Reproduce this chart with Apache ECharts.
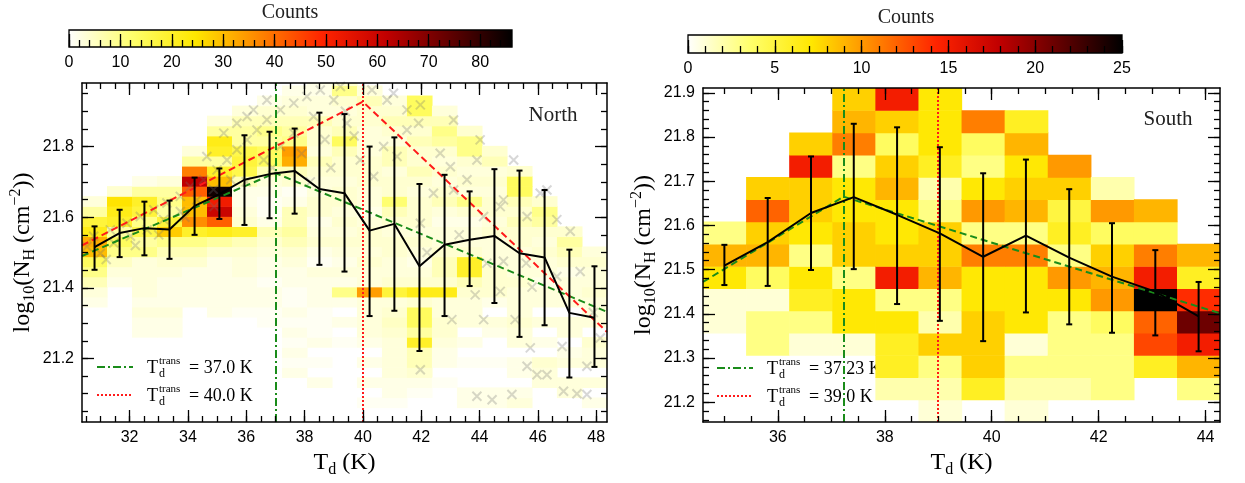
<!DOCTYPE html>
<html lang="en">
<head>
<meta charset="UTF-8">
<title>N_H vs T_d (North / South)</title>
<script src="https://cdn.jsdelivr.net/npm/echarts@6/dist/echarts.min.js"></script>
<style>
  html, body { margin: 0; padding: 0; background: #fff; }
  #chart { width: 1245px; height: 483px; }
</style>
</head>
<body>
<div id="chart"></div>
<script>
// ---------------- North panel data ----------------
var northRange = [30.37, 48.37, 21.02, 21.98];
var northBinX = [30.37, 0.857];      // first edge, width
var northBinY = [21.004, 0.0285];
// 2D histogram counts per column: [first row, counts upward...]
var northCells = [
  [12, 2, 3, 6, 10, 14, 30, 32, 22, 18, 8, 3],
  [14, 2, 3, 5, 10, 14, 8, 20, 22, 25, 4],
  [9, 2, 2, 3, 2, 3, 3, 3, 3, 10, 8, 16, 10, 18, 20, 8, 2],
  [9, 2, 2, 3, 2, 2, 2, 3, 4, 6, 10, 28, 18, 8, 10, 8, 3],
  [12, 2, 2, 2, 2, 4, 6, 10, 20, 36, 30, 30, 42, 62, 38, 8, 3],
  [11, 2, 2, 2, 2, 2, 2, 4, 8, 22, 42, 60, 52, 84, 30, 20, 8, 20, 22, 8, 3],
  [11, 1, 2, 2, 2, 3, 3, 4, 6, 20, 4, 3, 2, 2, 6, 16, 18, 16, 8, 8, 6, 3],
  [10, 1, 1, 2, 2, 1, 2, 2, 3, 4, 6, 2, 1, 1, 2, 3, 6, 14, 14, 8, 10, 6, 4, 2],
  [5, 2, 1, 2, 1, 2, 1, 2, 1, 1, 2, 2, 3, 4, 6, 8, 6, 6, 2, 1, 4, 6, 32, 34, 10, 8, 6, 4, 3, 2],
  [4, 2, 0, 1, 0, 2, 1, 1, 1, 2, 2, 2, 3, 1, 2, 4, 3, 2, 4, 4, 3, 3, 4, 6, 3, 4, 4, 6, 3, 3, 2, 2],
  [8, 1, 0, 2, 0, 2, 10, 2, 3, 2, 3, 4, 3, 4, 3, 4, 4, 3, 4, 4, 6, 14, 6, 4, 3, 4, 10, 4],
  [2, 1, 0, 2, 0, 2, 0, 2, 3, 3, 3, 3, 34, 3, 3, 4, 3, 4, 4, 3, 2, 3, 3, 4, 4, 4, 3, 3, 3, 4, 4, 6, 3],
  [2, 1, 2, 2, 3, 3, 3, 3, 4, 5, 4, 3, 18, 4, 3, 3, 4, 4, 3, 4, 6, 12, 4, 4, 3, 6, 6, 3, 4, 6, 4, 3],
  [3, 1, 2, 4, 6, 6, 20, 8, 14, 14, 4, 22, 4, 3, 2, 3, 4, 3, 4, 4, 4, 3, 4, 6, 4, 4, 6, 4, 6, 14, 14],
  [4, 1, 0, 2, 2, 3, 4, 4, 3, 3, 22, 4, 6, 6, 4, 3, 3, 2, 3, 6, 4, 3, 4, 3, 4, 8, 10, 6, 3],
  [2, 2, 2, 0, 0, 1, 0, 2, 0, 3, 3, 3, 4, 6, 20, 20, 4, 3, 3, 2, 4, 10, 3, 4, 3, 4, 10, 10, 4],
  [2, 2, 2, 0, 0, 1, 0, 0, 2, 3, 0, 2, 4, 4, 4, 3, 3, 3, 4, 3, 4, 4, 3, 4, 3, 6, 4],
  [2, 3, 2, 0, 2, 2, 0, 3, 3, 4, 3, 3, 3, 4, 3, 3, 3, 4, 4, 6, 4, 6, 14, 14, 4],
  [4, 3, 3, 4, 0, 2, 0, 3, 0, 3, 3, 2, 3, 3, 4, 3, 4, 8, 10, 4],
  [3, 3, 3, 0, 3, 2, 0, 3, 3, 0, 3, 3, 3, 2, 4, 6, 8, 4],
  [2, 2, 0, 3, 0, 3, 3, 4, 0, 3, 3, 3, 4, 3, 3, 4, 3]
];
var northT = [30.80, 31.66, 32.51, 33.37, 34.23, 35.08, 35.94, 36.80, 37.66, 38.51, 39.37,
              40.23, 41.08, 41.94, 42.80, 43.66, 44.51, 45.37, 46.23, 47.08, 47.94];
var northMean = [21.515, 21.555, 21.569, 21.565, 21.632, 21.665, 21.706, 21.722, 21.731, 21.680, 21.668,
                 21.562, 21.581, 21.461, 21.522, 21.536, 21.547, 21.498, 21.486, 21.329, 21.315];
var northHi = [21.574, 21.621, 21.644, 21.647, 21.712, 21.738, 21.832, 21.842, 21.851, 21.896, 21.892,
               21.800, 21.826, 21.694, 21.720, 21.673, 21.736, 21.732, 21.677, 21.508, 21.461];
var northLo = [21.451, 21.487, 21.492, 21.482, 21.550, 21.595, 21.578, 21.597, 21.610, 21.465, 21.446,
               21.320, 21.335, 21.221, 21.320, 21.405, 21.357, 21.261, 21.294, 21.146, 21.176];
var northPoints = [
  [30.54, 21.517], [30.77, 21.546], [31.0, 21.498], [31.34, 21.564], [31.46, 21.527], [31.91, 21.583],
  [32.03, 21.546], [32.37, 21.602], [32.6, 21.564], [32.83, 21.621], [33.17, 21.593], [33.28, 21.640],
  [33.74, 21.659], [33.74, 21.616], [34.08, 21.687], [34.31, 21.649], [34.54, 21.706], [34.65, 21.772],
  [34.88, 21.678], [35.0, 21.734], [35.23, 21.838], [35.34, 21.762], [35.47, 21.706], [35.68, 21.791],
  [35.68, 21.866], [36.03, 21.819], [36.03, 21.885], [36.25, 21.904], [36.37, 21.847], [36.6, 21.762],
  [36.71, 21.876], [36.71, 21.932], [37.17, 21.904], [37.17, 21.80], [37.63, 21.923], [37.63, 21.838],
  [38.08, 21.942], [38.31, 21.885], [38.54, 21.960], [39.0, 21.932], [39.23, 21.970],
  [40.31, 21.96], [41.05, 21.951], [41.97, 21.918], [40.71, 21.80], [41.91, 21.866], [41.51, 21.847],
  [43.11, 21.875], [44.02, 21.819], [43.91, 21.762], [43.0, 21.743], [42.42, 21.668], [41.97, 21.583],
  [44.14, 21.602], [44.71, 21.63], [45.63, 21.602], [47.11, 21.56], [45.17, 21.762], [46.08, 21.668],
  [46.31, 21.677], [41.17, 21.772], [39.91, 21.762], [40.37, 21.715], [42.65, 21.781], [43.57, 21.706],
  [39.45, 21.866], [40.83, 21.932], [41.51, 21.904], [43.11, 21.677], [44.82, 21.649], [46.65, 21.593],
  [43.05, 21.31], [44.14, 21.31], [45.22, 21.31], [45.74, 21.23], [45.63, 21.178], [45.97, 21.154],
  [46.31, 21.154], [46.88, 21.107], [47.34, 21.10], [47.68, 21.098], [43.91, 21.093], [44.43, 21.083],
  [45.11, 21.098], [44.71, 21.39], [43.85, 21.38], [45.80, 21.402], [47.45, 21.446], [46.83, 21.234],
  [47.68, 21.178], [48.14, 21.258], [41.97, 21.168], [44.25, 21.47], [44.82, 21.475], [46.65, 21.432],
  [31.2, 21.48], [32.2, 21.52], [33.0, 21.55], [33.9, 21.60], [34.9, 21.63], [36.0, 21.70], [36.9, 21.74],
  [37.9, 21.78], [38.7, 21.82], [39.4, 21.90], [38.2, 21.70], [38.9, 21.74], [39.7, 21.83], [42.2, 21.50],
  [43.3, 21.55], [45.6, 21.47], [47.9, 21.33]
];
var northFitRed = [[30.37, 21.52], [40.0, 21.927], [48.37, 21.275]];
var northFitGreen = [[30.37, 21.49], [37.0, 21.725], [48.37, 21.332]];
var northTrans = [37.0, 40.0];
var northLegend = ['= 37.0 K', '= 40.0 K'];
var northCbMax = 86.2;

// ---------------- South panel data ----------------
var southRange = [34.6, 44.27, 21.155, 21.911];
var southBinX = [34.6, 0.806];
var southBinY = [21.155, 0.0504];
var southCells = [
  [0, 0, 0, 0, 0, 1, 1, 7, 9, 3, 0, 0, 0, 0, 0, 0],
  [0, 0, 0, 0, 3, 3, 1, 4, 9, 8, 12, 8, 0, 0, 0, 0],
  [0, 0, 0, 0, 1, 3, 6, 7, 3, 7, 8, 8, 15, 8, 0, 0],
  [0, 0, 0, 0, 1, 7, 7, 3, 8, 8, 7, 7, 3, 11, 9, 8],
  [0, 0, 2, 6, 6, 7, 3, 15, 8, 7, 7, 9, 8, 4, 8, 15],
  [0, 1, 2, 3, 8, 2, 3, 9, 8, 8, 3, 2, 6, 7, 7, 7],
  [0, 0, 6, 8, 8, 8, 7, 7, 11, 3, 10, 7, 3, 4, 11, 0],
  [0, 1, 2, 3, 1, 7, 7, 7, 11, 3, 9, 8, 7, 9, 6, 0],
  [0, 0, 2, 3, 3, 3, 7, 10, 3, 6, 5, 8, 10, 0, 0, 0],
  [0, 0, 3, 3, 3, 4, 10, 9, 8, 4, 10, 2, 0, 0, 0, 0],
  [0, 0, 0, 6, 13, 12, 25, 15, 11, 4, 9, 0, 0, 0, 0, 0],
  [0, 0, 3, 9, 15, 21, 14, 6, 9, 0, 0, 0, 0, 0, 0, 0]
];
var southT = [35.0, 35.81, 36.62, 37.42, 38.23, 39.03, 39.84, 40.64, 41.45, 42.25, 43.06, 43.87];
var southMean = [21.509, 21.562, 21.628, 21.664, 21.624, 21.582, 21.529, 21.577, 21.527, 21.484, 21.450, 21.394];
var southHi = [21.556, 21.662, 21.756, 21.830, 21.822, 21.777, 21.718, 21.749, 21.682, 21.605, 21.544, 21.472];
var southLo = [21.465, 21.463, 21.499, 21.501, 21.422, 21.384, 21.338, 21.403, 21.376, 21.357, 21.351, 21.315];
var southFitGreen = [[34.6, 21.472], [37.23, 21.665], [44.27, 21.401]];
var southTrans = [37.23, 39.0];
var southLegend = ['= 37.23 K', '= 39.0 K'];
var southCbMax = 25;

// matplotlib hot_r
var hotR = ['#ffffff', '#ffff6d', '#ffe700', '#ff8600', '#ff2400', '#c20000', '#610000', '#000000'];
var sans = 'Liberation Sans, Arial, sans-serif';
var serif = 'Liberation Serif, Times New Roman, serif';
var green = '#1a8c1a';
var red = '#ff1a1a';

function steps(a, b, s) {
  var out = [];
  for (var v = a; v <= b + 1e-9; v += s) out.push(Math.round(v * 1000) / 1000);
  return out;
}

function cellData(cols, bx, by) {
  var out = [];
  cols.forEach(function (col, c) {
    for (var k = 1; k < col.length; k++) {
      if (col[k] > 0) out.push([bx[0] + bx[1] * c, by[0] + by[1] * (col[0] + k - 1), col[k]]);
    }
  });
  return out;
}

function cellSeries(data, bx, by, ai) {
  return {
    type: 'custom', xAxisIndex: ai, yAxisIndex: ai, clip: true, z: 1, silent: true,
    data: data, encode: { x: 0, y: 1 },
    renderItem: function (params, api) {
      var x = api.value(0), y = api.value(1);
      var a = api.coord([x, y]), b = api.coord([x + bx[1], y + by[1]]);
      return {
        type: 'rect',
        shape: { x: a[0], y: b[1], width: b[0] - a[0] + 0.6, height: a[1] - b[1] + 0.6 },
        style: { fill: api.visual('color') }
      };
    }
  };
}

function errSeries(t, lo, hi, ai) {
  return {
    type: 'custom', xAxisIndex: ai, yAxisIndex: ai, z: 6, silent: true,
    data: t.map(function (x, i) { return [x, lo[i], hi[i]]; }),
    encode: { x: 0, y: [1, 2] },
    renderItem: function (params, api) {
      var x = api.value(0);
      var p = api.coord([x, api.value(1)]), q = api.coord([x, api.value(2)]);
      var st = { stroke: '#000', lineWidth: 2 };
      return {
        type: 'group', children: [
          { type: 'line', shape: { x1: p[0], y1: p[1], x2: q[0], y2: q[1] }, style: st },
          { type: 'line', shape: { x1: p[0] - 3, y1: p[1], x2: p[0] + 3, y2: p[1] }, style: st },
          { type: 'line', shape: { x1: q[0] - 3, y1: q[1], x2: q[0] + 3, y2: q[1] }, style: st }
        ]
      };
    }
  };
}

function lineSeries(data, ai, color, dash, z, vline, vColor, vDash) {
  var s = {
    type: 'line', xAxisIndex: ai, yAxisIndex: ai, data: data, showSymbol: false, silent: true, z: z,
    lineStyle: { color: color, width: 2, type: dash }
  };
  if (vline != null) {
    s.markLine = {
      silent: true, symbol: 'none', label: { show: false },
      lineStyle: { color: vColor, width: 2, type: vDash },
      data: [{ xAxis: vline }]
    };
  }
  return s;
}

var nameRich = {
  b: { fontFamily: serif, fontSize: 24, lineHeight: 30, color: '#000' },
  sub: { fontFamily: serif, fontSize: 16, lineHeight: 15, verticalAlign: 'bottom', color: '#000' },
  sup: { fontFamily: serif, fontSize: 16, lineHeight: 15, verticalAlign: 'top', color: '#000' }
};

function mkAxis(grid, pos, range, ticks, len, opts) {
  opts = opts || {};
  var a = {
    type: 'value', gridIndex: grid, position: pos, min: range[0], max: range[1], z: 10,
    axisLine: { show: !!opts.line, onZero: false, lineStyle: { color: '#000', width: 1.5 } },
    splitLine: { show: false },
    axisTick: { show: true, inside: true, length: len, lineStyle: { color: '#000', width: 1.3 }, customValues: ticks },
    axisLabel: { show: !!opts.labels, customValues: ticks, margin: 8, color: '#000', fontFamily: sans, fontSize: 16 }
  };
  if (opts.name) {
    a.name = opts.name;
    a.nameLocation = 'middle';
    a.nameGap = opts.gap;
    a.nameRotate = opts.rotate || 0;
    a.nameTextStyle = { rich: nameRich };
  }
  return a;
}

var xName = '{b|T}{sub|d}{b| (K)}';
var yName = '{b|log}{sub|10}{b|(N}{sub|H}{b| (cm}{sup|−2}{b|))}';

var xAxes = [
  mkAxis(0, 'bottom', northRange.slice(0, 2), steps(32, 48, 2), 12, { line: true, labels: true, name: xName, gap: 24 }),
  mkAxis(0, 'bottom', northRange.slice(0, 2), steps(30.5, 48, 0.5), 6),
  mkAxis(0, 'top', northRange.slice(0, 2), steps(32, 48, 2), 12, { line: true }),
  mkAxis(0, 'top', northRange.slice(0, 2), steps(30.5, 48, 0.5), 6),
  mkAxis(1, 'bottom', southRange.slice(0, 2), steps(36, 44, 2), 12, { line: true, labels: true, name: xName, gap: 24 }),
  mkAxis(1, 'bottom', southRange.slice(0, 2), steps(35, 44, 0.5), 6),
  mkAxis(1, 'top', southRange.slice(0, 2), steps(36, 44, 2), 12, { line: true }),
  mkAxis(1, 'top', southRange.slice(0, 2), steps(35, 44, 0.5), 6),
  mkAxis(2, 'bottom', [0, northCbMax], steps(0, 80, 10), 13, { labels: true }),
  mkAxis(2, 'bottom', [0, northCbMax], steps(0, 86, 2), 7),
  mkAxis(3, 'bottom', [0, southCbMax], steps(0, 25, 5), 13, { labels: true }),
  mkAxis(3, 'bottom', [0, southCbMax], steps(0, 25, 1), 7)
];
var yAxes = [
  mkAxis(0, 'left', northRange.slice(2), steps(21.2, 21.8, 0.2), 12, { line: true, labels: true, name: yName, gap: 44, rotate: 90 }),
  mkAxis(0, 'left', northRange.slice(2), steps(21.05, 21.95, 0.05), 6),
  mkAxis(0, 'right', northRange.slice(2), steps(21.2, 21.8, 0.2), 12, { line: true }),
  mkAxis(0, 'right', northRange.slice(2), steps(21.05, 21.95, 0.05), 6),
  mkAxis(1, 'left', southRange.slice(2), steps(21.2, 21.9, 0.1), 12, { line: true, labels: true, name: yName, gap: 44, rotate: 90 }),
  mkAxis(1, 'left', southRange.slice(2), steps(21.16, 21.9, 0.02), 6),
  mkAxis(1, 'right', southRange.slice(2), steps(21.2, 21.9, 0.1), 12, { line: true }),
  mkAxis(1, 'right', southRange.slice(2), steps(21.16, 21.9, 0.02), 6),
  { type: 'value', gridIndex: 2, show: false, min: 0, max: 1 },
  { type: 'value', gridIndex: 3, show: false, min: 0, max: 1 }
];

var grad = {
  type: 'linear', x: 0, y: 0, x2: 1, y2: 0,
  colorStops: hotR.map(function (c, i) { return { offset: i / (hotR.length - 1), color: c }; })
};

function legendEntry(x, y, color, dash, label) {
  return [
    { type: 'line', shape: { x1: x, y1: y, x2: x + 36, y2: y }, style: { stroke: color, lineWidth: 2, lineDash: dash } },
    { type: 'text', x: x + 50, y: y + 1, style: { text: 'T', font: '18px ' + serif, fill: '#000', verticalAlign: 'middle' } },
    { type: 'text', x: x + 62, y: y - 6, style: { text: 'trans', font: '11px ' + serif, fill: '#000', verticalAlign: 'middle' } },
    { type: 'text', x: x + 62, y: y + 7, style: { text: 'd', font: '12px ' + serif, fill: '#000', verticalAlign: 'middle' } },
    { type: 'text', x: x + 92, y: y + 1, style: { text: label, font: '18px ' + serif, fill: '#000', verticalAlign: 'middle' } }
  ];
}

function title(text, x, y, size) {
  return { type: 'text', x: x, y: y, style: { text: text, font: size + 'px ' + serif, fill: '#222', align: 'center', verticalAlign: 'middle' } };
}

var graphics = []
  .concat(legendEntry(97, 367, green, [8, 3, 2, 3], northLegend[0]))
  .concat(legendEntry(97, 395, red, [2, 2], northLegend[1]))
  .concat(legendEntry(717, 368, green, [8, 3, 2, 3], southLegend[0]))
  .concat(legendEntry(717, 396, red, [2, 2], southLegend[1]))
  .concat([title('Counts', 290, 13, 20), title('Counts', 906, 18, 20),
           title('North', 553, 115, 21), title('South', 1168, 119, 21)]);

var chart = echarts.init(document.getElementById('chart'), null, { renderer: 'canvas' });
chart.setOption({
  animation: false,
  backgroundColor: '#fff',
  grid: [
    { left: 82, top: 83, width: 525, height: 339, show: false, outerBoundsMode: 'none' },
    { left: 703, top: 88, width: 517, height: 334, show: false, outerBoundsMode: 'none' },
    { left: 69, top: 30, width: 443, height: 17, show: true, borderColor: '#000', borderWidth: 1.3, backgroundColor: grad, outerBoundsMode: 'none' },
    { left: 688, top: 35, width: 434, height: 18, show: true, borderColor: '#000', borderWidth: 1.3, backgroundColor: grad, outerBoundsMode: 'none' }
  ],
  xAxis: xAxes,
  yAxis: yAxes,
  visualMap: [
    { type: 'continuous', show: false, seriesIndex: 0, dimension: 2, min: 0, max: northCbMax, inRange: { color: hotR } },
    { type: 'continuous', show: false, seriesIndex: 1, dimension: 2, min: 0, max: southCbMax, inRange: { color: hotR } }
  ],
  series: [
    cellSeries(cellData(northCells, northBinX, northBinY), northBinX, northBinY, 0),
    cellSeries(cellData(southCells, southBinX, southBinY), southBinX, southBinY, 4),
    {
      type: 'scatter', xAxisIndex: 0, yAxisIndex: 0, data: northPoints, silent: true, z: 2,
      symbol: 'path://M0,0L10,10M10,0L0,10', symbolSize: 9,
      itemStyle: { color: 'rgba(0,0,0,0)', borderColor: 'rgba(110,110,110,0.35)', borderWidth: 2 }
    },
    lineSeries(northFitGreen, 0, green, [7, 4], 4, northTrans[0], green, [8, 3, 2, 3]),
    lineSeries(northFitRed, 0, red, [7, 4], 4, northTrans[1], red, [2, 2]),
    lineSeries(northT.map(function (t, i) { return [t, northMean[i]]; }), 0, '#000', 'solid', 5),
    errSeries(northT, northLo, northHi, 0),
    lineSeries(southFitGreen, 4, green, [7, 4], 4, southTrans[0], green, [8, 3, 2, 3]),
    lineSeries([], 4, red, [2, 2], 4, southTrans[1], red, [2, 2]),
    lineSeries(southT.map(function (t, i) { return [t, southMean[i]]; }), 4, '#000', 'solid', 5),
    errSeries(southT, southLo, southHi, 4)
  ],
  graphic: graphics
});
</script>
</body>
</html>
